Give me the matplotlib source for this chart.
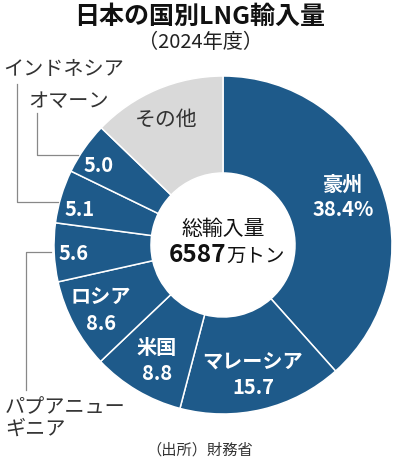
import matplotlib
matplotlib.use("Agg")
import matplotlib.pyplot as plt

plt.rcParams['font.family'] = ['Noto Sans CJK JP', 'DejaVu Sans']

countries = ["豪州", "マレーシア", "米国", "ロシア", "パプアニューギニア", "インドネシア", "オマーン", "その他"]
shares = [38.4, 15.7, 8.8, 8.6, 5.6, 5.1, 5.0, 12.8]
value_labels = ["38.4%", "15.7", "8.8", "8.6", "5.6", "5.1", "5.0", ""]
total_text = "6587"

H = 467
BLUE = "#1e5a8a"
GRAY = "#d9d9d9"
colors = [BLUE] * 7 + [GRAY]

fig = plt.figure(figsize=(4.0, 4.67), dpi=100)
ax = fig.add_axes([0, 0, 1, 1])

cx, cy, R, r_in = 223, H - 245, 169, 72
ax.pie(shares, colors=colors, startangle=90, counterclock=False,
       center=(cx, cy), radius=R,
       wedgeprops=dict(width=R - r_in, edgecolor="white", linewidth=1.1))
ax.set_xlim(0, 400)
ax.set_ylim(0, H)
ax.set_aspect("equal")
ax.axis("off")

def T(x, y, s, **kw):
    ax.text(x, H - y, s, **kw)

# Title
T(200, 17, "日本の国別LNG輸入量", ha="center", va="center", fontsize=18, fontweight="bold", color="#111111")
T(200, 43, "（2024年度）", ha="center", va="center", fontsize=14.5, color="#222222")

# Slice labels
lab_kw = dict(ha="center", va="center", fontsize=14.5, fontweight="bold", color="white")
T(343, 184, countries[0], **lab_kw)
T(343, 210, value_labels[0], **lab_kw)
T(253, 362, countries[1], **lab_kw)
T(253, 388, value_labels[1], **lab_kw)
T(157, 348, countries[2], **lab_kw)
T(157, 374, value_labels[2], **lab_kw)
T(101, 297, countries[3], **lab_kw)
T(101, 323, value_labels[3], **lab_kw)
T(74, 253, value_labels[4], **lab_kw)
T(80, 209, value_labels[5], **lab_kw)
T(99, 166, value_labels[6], **lab_kw)
T(166, 120, countries[7], ha="center", va="center", fontsize=15, color="#333333")

# Centre
T(223, 229, "総輸入量", ha="center", va="center", fontsize=15, color="#111111")
T(226, 255, total_text, ha="right", va="center", fontsize=17.5, fontweight="bold", color="#111111")
T(226, 256, "万トン", ha="left", va="center", fontsize=14, color="#111111")

# Outside labels with leader lines
lc = "#888888"
T(3, 69, countries[5], ha="left", va="center", fontsize=14.5, color="#333333")
ax.plot([17, 17, 58], [H - 84, H - 202, H - 202], color=lc, lw=0.9)
T(28, 101, countries[6], ha="left", va="center", fontsize=14.5, color="#333333")
ax.plot([37, 37, 78], [H - 113, H - 155, H - 155], color=lc, lw=0.9)
T(5, 408, "パプアニュー", ha="left", va="center", fontsize=14.5, color="#333333")
T(5, 429, "ギニア", ha="left", va="center", fontsize=14.5, color="#333333")
ax.plot([51, 26, 26], [H - 252, H - 252, H - 390], color=lc, lw=0.9)

# Source
T(200, 450, "（出所）財務省", ha="center", va="center", fontsize=11, color="#333333")

fig.savefig("out.png", dpi=100)
